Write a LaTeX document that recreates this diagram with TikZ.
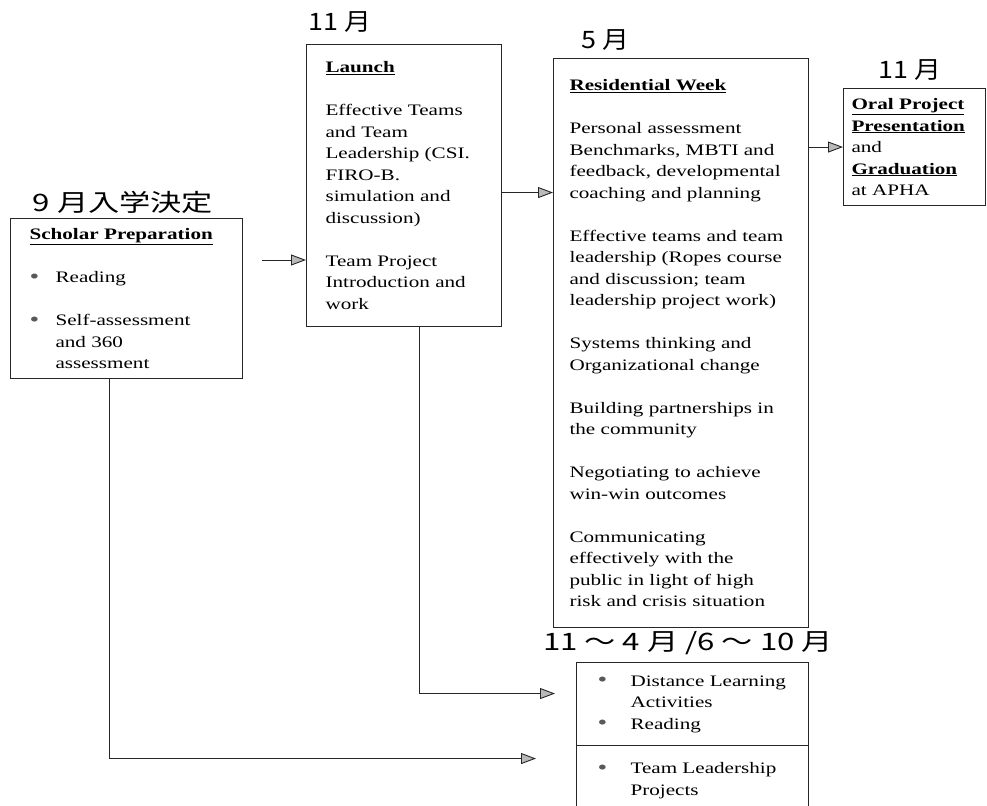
\documentclass[tikz,border=0pt]{standalone}
\usepackage{fontspec}
\setmainfont{Liberation Serif}[FakeStretch=1.32]
\newfontfamily\jpfont{Noto Sans CJK JP}[FakeStretch=1.3]
\newfontfamily\jpnarrow{Noto Sans CJK JP}[FakeStretch=1.12]
\usetikzlibrary{positioning,arrows.meta}
\newcommand{\dotmark}{\textcolor{black!65}{\raisebox{-0.8bp}{\fontsize{21bp}{21bp}\selectfont\textbullet}}}
\newcommand{\bul}{\makebox[26bp][l]{\dotmark}}
\newcommand{\bulb}{\makebox[33bp][l]{\dotmark}}
\newcommand{\ttl}[1]{\underline{\textbf{#1}}}

\begin{document}
\begin{tikzpicture}[x=1bp,y=-1bp,
  box/.style={rectangle,draw=black!85,line width=1.1bp,anchor=north west,align=left,
              inner ysep=0pt,font=\fontsize{16bp}{21.5bp}\selectfont},
  lbl/.style={inner sep=0pt,font=\jpfont\fontsize{24bp}{24bp}\selectfont},
  lblsm/.style={inner sep=0pt,font=\jpnarrow\fontsize{24bp}{24bp}\selectfont},
  arr/.style={-{Triangle[length=15bp,width=11bp,fill=gray!55]},line width=0.9bp,black!85}
]
\useasboundingbox (0,0) rectangle (987,806);
% month labels
\node[lbl] (m9) at (123,202) {9 月入学決定};
\node[lblsm] (m11a) at (340,22) {11 月};
\node[lblsm] (m5) at (605,40) {5 月};
\node[lblsm] (m11b) at (910,70) {11 月};
\node[lbl] (mrange) at (688,643) {11 ～ 4 月 /6 ～ 10 月};
% boxes
\node[box,text width=194bp,inner xsep=19bp,minimum height=160bp] (scholar) at (10,218)
  {\ttl{Scholar Preparation}\\[21.5bp]
   \bul Reading\\[21.5bp]
   \bul Self-assessment\\
   \hspace*{26bp}and 360\\
   \hspace*{26bp}assessment};
\node[box,text width=157bp,inner xsep=19bp,minimum height=282bp] (launch) at (306,44)
  {\ttl{Launch}\\[21.5bp]
   Effective Teams\\and Team\\Leadership (CSI.\\FIRO-B.\\simulation and\\discussion)\\[21.5bp]
   Team Project\\Introduction and\\work};
\node[box,text width=223bp,inner xsep=16bp,minimum height=569bp] (res) at (553,58)
  {\ttl{Residential Week}\\[21.5bp]
   Personal assessment\\Benchmarks, MBTI and\\feedback, developmental\\coaching and planning\\[21.5bp]
   Effective teams and team\\leadership (Ropes course\\and discussion; team\\leadership project work)\\[21.5bp]
   Systems thinking and\\Organizational change\\[21.5bp]
   Building partnerships in\\the community\\[21.5bp]
   Negotiating to achieve\\win-win outcomes\\[21.5bp]
   Communicating\\effectively with the\\public in light of high\\risk and crisis situation};
\node[box,text width=126bp,inner xsep=8bp,minimum height=117bp] (oral) at (843,88)
  {\ttl{Oral Project}\\\ttl{Presentation}\\and\\\ttl{Graduation}\\at APHA};
\node[box,text width=190bp,inner xsep=21bp,minimum height=83bp] (dist) at (576,662)
  {\bulb Distance Learning\\\hspace*{33bp}Activities\\\bulb Reading};
\node[box,text width=190bp,inner xsep=21bp,minimum height=70bp] (proj) at (576,745)
  {\bulb Team Leadership\\\hspace*{33bp}Projects};
% connectors
\coordinate (s1) at (262,260);
\draw[arr] (s1) -- (s1 -| launch.west);
\draw[arr] ([yshift=-7bp]launch.east) -- ([yshift=-7bp]launch.east -| res.west);
\draw[arr] (oral.west -| res.east) -- (oral.west);
\draw[arr] ([xshift=15bp]launch.south) |- ([xshift=-21bp,yshift=10.5bp]dist.west);
\draw[arr] ([xshift=-17bp]scholar.south) |- ([xshift=-40bp,yshift=22bp]proj.west);
\end{tikzpicture}
\end{document}
